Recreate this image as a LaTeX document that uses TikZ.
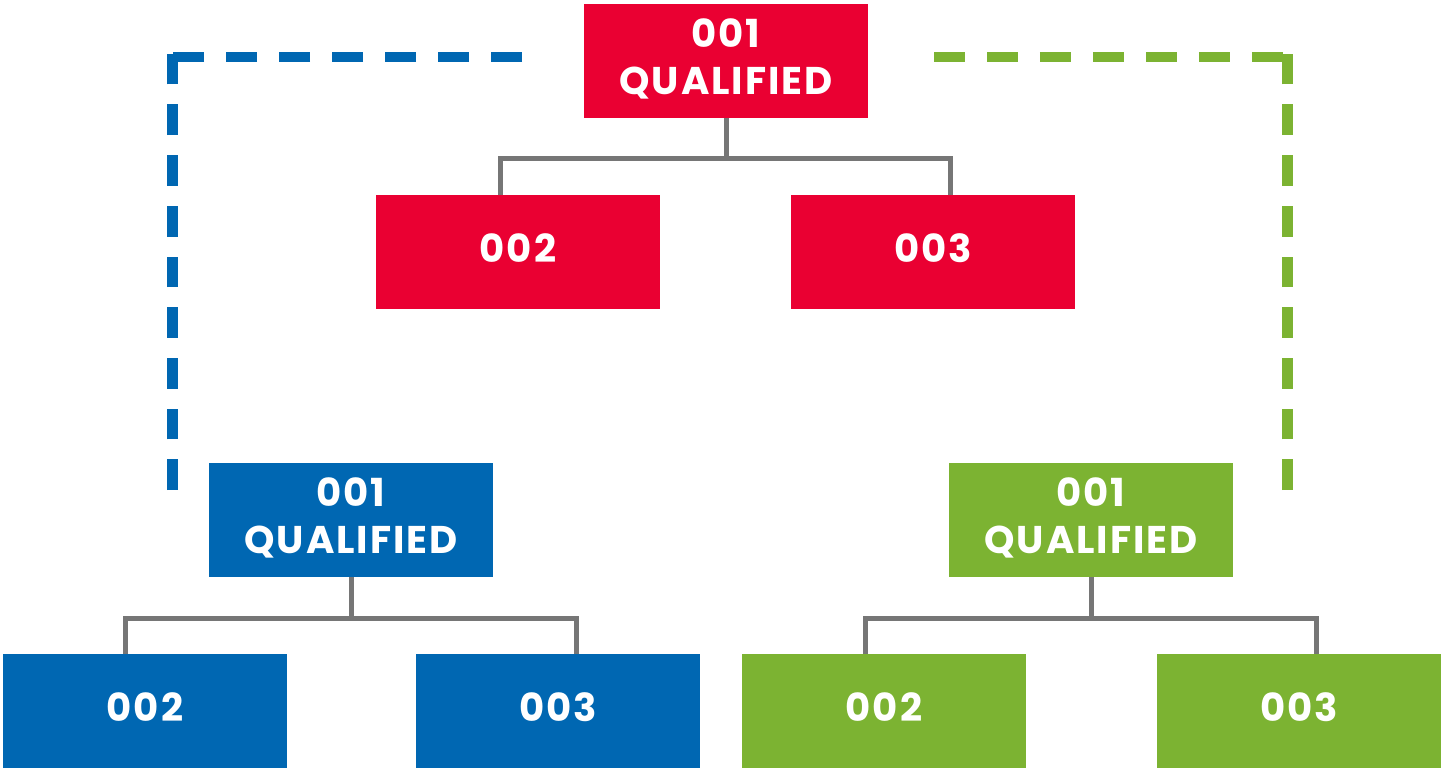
\documentclass[tikz,border=0pt]{standalone}
\usepackage{fontspec}
\newfontfamily\boxfont{Poppins}[LetterSpace=5]
\usepackage{tikz}

\definecolor{qred}{RGB}{234,0,50}
\definecolor{qblue}{RGB}{0,103,178}
\definecolor{qgreen}{RGB}{124,179,50}
\definecolor{qgray}{RGB}{118,118,118}

\begin{document}
\begin{tikzpicture}
        [%%%%%%%%%%%%%%%%%%%%%%%%%%%%%%
        x=0.02cm, y=-0.02cm,
        box/.style={rectangle, inner sep=0pt, minimum width=5.68cm, minimum height=2.28cm,
          text depth=0.17cm, text=white, align=center,
          font=\boxfont\bfseries\fontsize{22}{26.7}\selectfont},
        link/.style={draw=qgray, line width=0.1cm},
        htrace/.style={line width=0.2cm, dash pattern=on 0.62cm off 0.44cm},
        vtrace/.style={line width=0.22cm, dash pattern=on 0.614cm off 0.40cm},
        ]%%%%%%%%%%%%%%%%%%%%%%%%%%%%%%
        \useasboundingbox (0,0) rectangle (1442,770);
        % Top tree
        \node[box, fill=qred] (r1) at (726,61) {001\\QUALIFIED};
        \node[box, fill=qred] (r2) at (518,252) {002};
        \node[box, fill=qred] (r3) at (933,252) {003};
        % Left tree
        \node[box, fill=qblue] (b1) at (351,520) {001\\QUALIFIED};
        \node[box, fill=qblue] (b2) at (145,711) {002};
        \node[box, fill=qblue] (b3) at (558,711) {003};
        % Right tree
        \node[box, fill=qgreen] (g1) at (1091,520) {001\\QUALIFIED};
        \node[box, fill=qgreen] (g2) at (884,711) {002};
        \node[box, fill=qgreen] (g3) at (1299,711) {003};
        % Lines
        \draw[link] (r1.south) -- ++(0,40) coordinate (rj);
        \draw[link] ([xshift=-0.36cm]r2.north) |- (rj) -| ([xshift=0.34cm]r3.north);
        \draw[link] (b1.south) -- ++(0,41) coordinate (bj);
        \draw[link] ([xshift=-0.39cm]b2.north) |- (bj) -| ([xshift=0.36cm]b3.north);
        \draw[link] (g1.south) -- ++(0,41) coordinate (gj);
        \draw[link] ([xshift=-0.38cm]g2.north) |- (gj) -| ([xshift=0.34cm]g3.north);
        % Dashed traces
        \coordinate (bs) at (522,57);
        \coordinate (bc) at (167,57);
        \coordinate (be) at (172.5,490);
        \coordinate (gs) at (934,57);
        \coordinate (gc) at (1293,57);
        \coordinate (ge) at (1287.5,490);
        \draw[htrace, draw=qblue] (bs) -- (bc);
        \draw[vtrace, draw=qblue] (be) -- (be |- 52,52);
        \draw[htrace, draw=qgreen] (gs) -- (gc);
        \draw[vtrace, draw=qgreen] (ge) -- (ge |- 52,52);
      \end{tikzpicture}
\end{document}
